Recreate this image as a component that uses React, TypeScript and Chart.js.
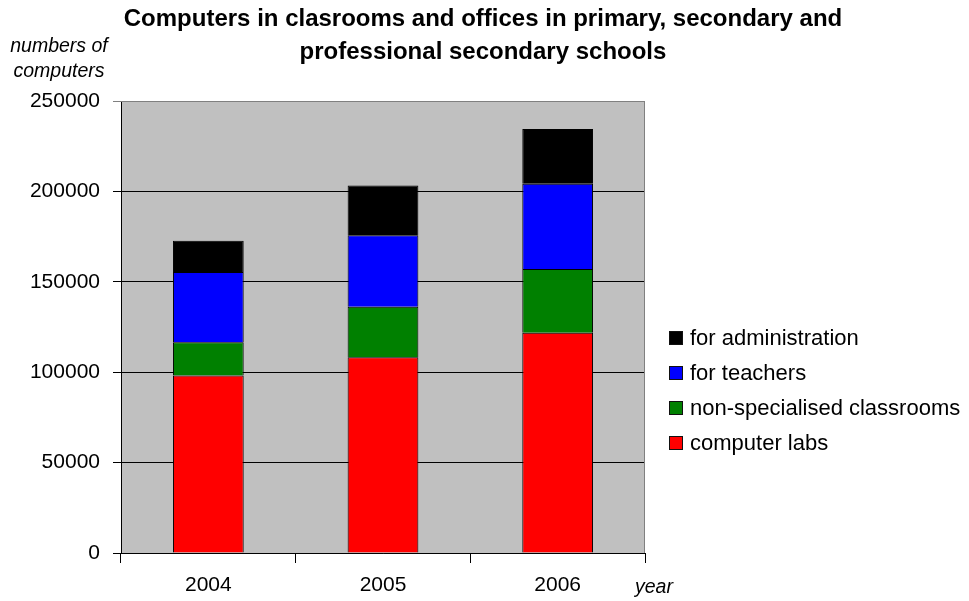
import React, { useEffect, useRef } from "react";
import { Chart, registerables } from "chart.js";

Chart.register(...registerables);

const years = ["2004", "2005", "2006"];
const computerLabs = [98200, 108200, 121800];
const nonSpecialised = [18400, 28000, 35300];
const forTeachers = [38800, 39500, 47200];
const forAdministration = [17300, 27500, 30200];

const titleLines = [
  "Computers in clasrooms and offices in primary, secondary and",
  "professional secondary schools",
];
const yAxisTitle = ["numbers of", "computers"];
const xAxisTitle = "year";

const series = [
  { label: "computer labs", data: computerLabs, color: "#FF0000" },
  { label: "non-specialised classrooms", data: nonSpecialised, color: "#008000" },
  { label: "for teachers", data: forTeachers, color: "#0000FF" },
  { label: "for administration", data: forAdministration, color: "#000000" },
];

const FONT = "'Liberation Sans', Arial, sans-serif";

const plotBg = {
  id: "plotBg",
  beforeDraw(chart: any) {
    const { ctx, chartArea } = chart;
    ctx.save();
    ctx.fillStyle = "#C0C0C0";
    ctx.fillRect(chartArea.left, chartArea.top, chartArea.right - chartArea.left, chartArea.bottom - chartArea.top);
    ctx.restore();
  },
  afterDraw(chart: any) {
    const { ctx, chartArea } = chart;
    ctx.save();
    ctx.strokeStyle = "#808080";
    ctx.lineWidth = 1;
    ctx.beginPath();
    ctx.moveTo(chartArea.left, chartArea.top + 0.5);
    ctx.lineTo(chartArea.right - 0.5, chartArea.top + 0.5);
    ctx.lineTo(chartArea.right - 0.5, chartArea.bottom);
    ctx.stroke();
    ctx.restore();
  },
};

export default function App() {
  const ref = useRef<HTMLCanvasElement>(null);

  useEffect(() => {
    if (!ref.current) return;
    const chart = new Chart(ref.current, {
      type: "bar",
      data: {
        labels: years,
        datasets: series.map((s) => ({
          label: s.label,
          data: s.data,
          backgroundColor: s.color,
          borderColor: "#000000",
          borderWidth: 1,
          barPercentage: 0.405,
          categoryPercentage: 1,
        })),
      },
      options: {
        responsive: false,
        animation: false,
        devicePixelRatio: 1,
        layout: { padding: { top: 101, right: 324, left: 0, bottom: 0 } },
        plugins: {
          legend: { display: false },
          title: { display: false },
          tooltip: { enabled: false },
        },
        scales: {
          x: {
            stacked: true,
            afterFit: (scale: any) => {
              scale.height = 48;
            },
            grid: {
              offset: true,
              drawOnChartArea: false,
              drawTicks: true,
              tickLength: 10,
              color: "#000000",
            },
            border: { display: true, color: "#000000" },
            ticks: {
              color: "#000000",
              padding: 10,
              font: { family: FONT, size: 21 },
            },
          },
          y: {
            stacked: true,
            min: 0,
            max: 250000,
            afterFit: (scale: any) => {
              scale.width = 121;
            },
            grid: {
              color: (c: any) => (c.tick && c.tick.value === 250000 ? "#808080" : "#000000"),
              drawTicks: true,
              tickLength: 8,
            },
            border: { display: true, color: "#000000" },
            ticks: {
              stepSize: 50000,
              color: "#000000",
              padding: 13,
              font: { family: FONT, size: 21 },
              callback: (v: any) => String(v),
            },
          },
        },
      },
      plugins: [plotBg],
    });
    return () => chart.destroy();
  }, []);

  const legendItems = [...series].reverse();

  return (
    <div style={{ position: "absolute", left: 0, top: 0, width: 969, height: 601, background: "#fff", fontFamily: FONT }}>
      <canvas ref={ref} width={969} height={601} style={{ position: "absolute", left: 0, top: 0, width: 969, height: 601 }} />
      {titleLines.map((t, i) => (
        <div
          key={i}
          style={{
            position: "absolute",
            left: 0,
            width: 966,
            top: 3 + i * 33,
            textAlign: "center",
            fontWeight: "bold",
            fontSize: 24,
            lineHeight: "30px",
            color: "#000",
            whiteSpace: "nowrap",
          }}
        >
          {t}
        </div>
      ))}
      {yAxisTitle.map((t, i) => (
        <div
          key={i}
          style={{
            position: "absolute",
            left: 0,
            width: 118,
            top: 33 + i * 25,
            textAlign: "center",
            fontStyle: "italic",
            fontSize: 19.5,
            lineHeight: "24px",
            color: "#000",
            whiteSpace: "nowrap",
          }}
        >
          {t}
        </div>
      ))}
      <div
        style={{
          position: "absolute",
          left: 635,
          top: 574,
          fontStyle: "italic",
          fontSize: 19.5,
          lineHeight: "24px",
          color: "#000",
        }}
      >
        {xAxisTitle}
      </div>
      {legendItems.map((s, i) => (
        <div
          key={s.label}
          style={{
            position: "absolute",
            left: 669,
            top: 324 + i * 35,
            height: 28,
            display: "flex",
            alignItems: "center",
            whiteSpace: "nowrap",
          }}
        >
          <span
            style={{
              display: "inline-block",
              width: 12,
              height: 12,
              background: s.color,
              border: "1px solid #111",
              marginRight: 7,
            }}
          />
          <span style={{ fontSize: 22, color: "#000" }}>{s.label}</span>
        </div>
      ))}
    </div>
  );
}
